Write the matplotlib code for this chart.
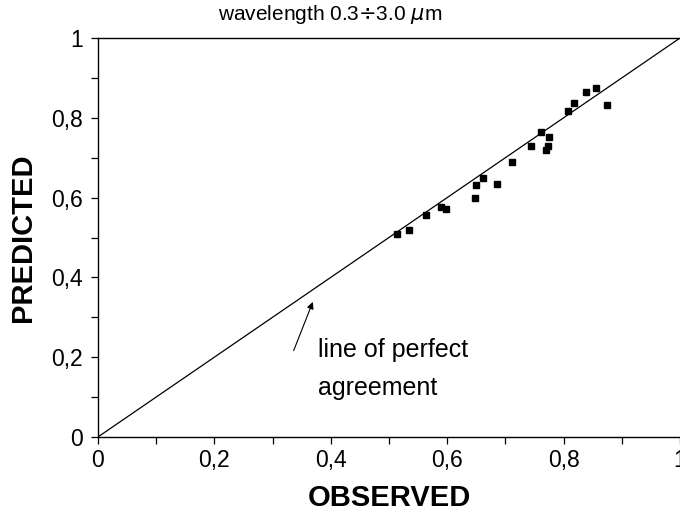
#!/usr/bin/env python3
# predicted vs observed scatter with line of perfect agreement
import matplotlib
matplotlib.use("Agg")
import matplotlib.pyplot as plt
from matplotlib.ticker import MultipleLocator, FixedLocator

plt.rcParams['font.family'] = ['Liberation Sans', 'DejaVu Sans']

# observed / predicted values
observed = [0.513, 0.535, 0.563, 0.589, 0.598, 0.647, 0.649, 0.662, 0.686, 0.711,
            0.744, 0.762, 0.775, 0.773, 0.769, 0.808, 0.818, 0.838, 0.855, 0.875]
predicted = [0.509, 0.518, 0.557, 0.577, 0.572, 0.600, 0.632, 0.648, 0.635, 0.689,
             0.730, 0.764, 0.751, 0.730, 0.720, 0.817, 0.836, 0.865, 0.875, 0.832]

tick_vals = [0, 0.2, 0.4, 0.6, 0.8, 1]
tick_labels = ["0", "0,2", "0,4", "0,6", "0,8", "1"]

fig = plt.figure(figsize=(6.8, 5.18), dpi=100)
ax = fig.add_axes([0.144, 0.1564, 0.856, 0.7702])

# line of perfect agreement
ax.plot([0, 1], [0, 1], color='black', lw=0.9)
ax.plot(observed, predicted, 's', color='black', ms=5, mec='black')

ax.set_xlim(0, 1)
ax.set_ylim(0, 1)
ax.spines['right'].set_visible(False)
for s in ['left', 'bottom', 'top']:
    ax.spines[s].set_linewidth(1.0)

ax.xaxis.set_major_locator(FixedLocator(tick_vals))
ax.yaxis.set_major_locator(FixedLocator(tick_vals))
ax.set_xticklabels(tick_labels)
ax.set_yticklabels(tick_labels)
ax.xaxis.set_minor_locator(MultipleLocator(0.1))
ax.yaxis.set_minor_locator(MultipleLocator(0.1))
ax.tick_params(which='both', direction='out', length=5, width=0.9, labelsize=16.5)
ax.tick_params(axis='x', which='both', pad=4)
ax.tick_params(axis='y', which='both', pad=6)

ax.set_xlabel("OBSERVED", fontsize=21, fontweight='bold', labelpad=8)
ax.set_ylabel("PREDICTED", fontsize=21, fontweight='bold', labelpad=10)

fig.text(0.485, 0.972, r"wavelength 0.3$\div$3.0 $\mu$m", fontsize=15,
         ha='center', va='center')

ax.annotate("", xy=(0.371, 0.345), xytext=(0.3345, 0.21),
            arrowprops=dict(arrowstyle='-|>', color='black', lw=0.8,
                            mutation_scale=10))
ax.text(0.378, 0.171, "line of perfect\nagreement", fontsize=18,
        ha='left', va='center', linespacing=1.75)

fig.savefig("out.png", dpi=100)
